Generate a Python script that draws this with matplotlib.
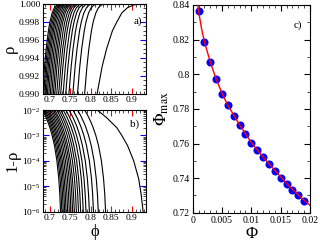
import matplotlib
matplotlib.use("Agg")
import matplotlib.pyplot as plt
from matplotlib.ticker import MultipleLocator, FuncFormatter, LogLocator, NullFormatter

plt.rcParams["font.family"] = ["Liberation Serif", "DejaVu Serif"]
plt.rcParams["mathtext.fontset"] = "stix"

# 1 - rho levels at which each curve was read (panel b scale)
levels = [1e-2, 7e-3, 5e-3, 3e-3, 2e-3, 1e-3, 4e-4, 1e-4, 2e-5, 5e-6, 1e-6]

# phi where each curve crosses the levels above, read from panels a) and b)
curves = [
    [0.816, 0.828, 0.839, 0.853, 0.864, 0.876, 0.890, 0.905, 0.917, 0.923, 0.928],
    [0.7855, 0.7910, 0.7957, 0.8020, 0.8063, 0.8127, 0.8192, 0.8263, 0.8315, 0.8344, 0.8365],
    [0.7681, 0.7736, 0.7782, 0.7845, 0.7888, 0.7950, 0.8015, 0.8085, 0.8137, 0.8166, 0.8187],
    [0.7568, 0.7622, 0.7669, 0.7730, 0.7773, 0.7835, 0.7900, 0.7969, 0.8021, 0.8049, 0.8070],
    [0.7472, 0.7526, 0.7572, 0.7633, 0.7676, 0.7737, 0.7801, 0.7870, 0.7921, 0.7949, 0.7970],
    [0.7394, 0.7448, 0.7493, 0.7554, 0.7596, 0.7657, 0.7721, 0.7789, 0.7839, 0.7867, 0.7888],
    [0.7331, 0.7384, 0.7429, 0.7489, 0.7531, 0.7592, 0.7655, 0.7723, 0.7773, 0.7800, 0.7821],
    [0.7271, 0.7324, 0.7368, 0.7428, 0.7470, 0.7530, 0.7592, 0.7660, 0.7709, 0.7737, 0.7757],
    [0.7223, 0.7275, 0.7320, 0.7379, 0.7420, 0.7480, 0.7542, 0.7608, 0.7658, 0.7685, 0.7705],
    [0.7175, 0.7227, 0.7271, 0.7330, 0.7370, 0.7430, 0.7491, 0.7557, 0.7606, 0.7633, 0.7653],
    [0.7129, 0.7180, 0.7224, 0.7282, 0.7323, 0.7381, 0.7442, 0.7508, 0.7556, 0.7583, 0.7603],
    [0.7092, 0.7143, 0.7186, 0.7244, 0.7284, 0.7342, 0.7403, 0.7468, 0.7516, 0.7542, 0.7562],
    [0.7055, 0.7105, 0.7148, 0.7206, 0.7245, 0.7303, 0.7363, 0.7428, 0.7475, 0.7501, 0.7521],
    [0.7018, 0.7068, 0.7110, 0.7167, 0.7207, 0.7264, 0.7323, 0.7387, 0.7435, 0.7461, 0.7480],
    [0.6982, 0.7032, 0.7074, 0.7130, 0.7169, 0.7226, 0.7285, 0.7348, 0.7395, 0.7421, 0.7440],
    [0.6948, 0.6997, 0.7039, 0.7095, 0.7134, 0.7190, 0.7248, 0.7311, 0.7357, 0.7383, 0.7402],
    [0.6918, 0.6967, 0.7008, 0.7064, 0.7102, 0.7158, 0.7215, 0.7278, 0.7324, 0.7349, 0.7368],
    [0.6888, 0.6936, 0.6977, 0.7032, 0.7070, 0.7125, 0.7183, 0.7245, 0.7290, 0.7315, 0.7334],
    [0.6858, 0.6906, 0.6947, 0.7001, 0.7039, 0.7093, 0.7150, 0.7211, 0.7257, 0.7281, 0.7300],
    [0.6829, 0.6876, 0.6917, 0.6971, 0.7008, 0.7062, 0.7119, 0.7179, 0.7224, 0.7249, 0.7267],
]

# panel c) points and fitted line
Phi = [0.001, 0.002, 0.003, 0.004, 0.005, 0.006, 0.007, 0.008, 0.009, 0.010,
       0.011, 0.012, 0.013, 0.014, 0.015, 0.016, 0.017, 0.018, 0.019]
phi_max = [0.8365, 0.8187, 0.8070, 0.7970, 0.7888, 0.7821, 0.7757, 0.7705, 0.7653, 0.7603,
           0.7562, 0.7521, 0.7480, 0.7440, 0.7402, 0.7368, 0.7334, 0.7300, 0.7267]
fit_Phi = [0.0008, 0.001, 0.0015, 0.002, 0.003, 0.004, 0.005, 0.006, 0.008, 0.010,
           0.012, 0.014, 0.016, 0.018, 0.020]
fit_max = [0.8410, 0.8365, 0.8265, 0.8187, 0.8070, 0.7972, 0.7890, 0.7820, 0.7708, 0.7605,
           0.7522, 0.7445, 0.7370, 0.7303, 0.7243]

rho = [1 - l for l in levels]

fig = plt.figure(figsize=(3.2, 2.42), dpi=100)
ax_a = fig.add_axes([0.1344, 0.6136, 0.3219, 0.3698])
ax_b = fig.add_axes([0.1344, 0.1252, 0.3219, 0.4202])
ax_c = fig.add_axes([0.6022, 0.1207, 0.3666, 0.8587])

for c in curves:
    ax_a.plot(c, rho, color="black", lw=0.8)
    ax_b.plot(c, levels, color="black", lw=0.8)

tick_fs = 6.8
g = lambda v, p: "%g" % v

for ax in (ax_a, ax_b):
    ax.set_xlim(0.684, 0.935)
    ax.xaxis.set_major_locator(MultipleLocator(0.05))
    ax.xaxis.set_minor_locator(MultipleLocator(0.01))
    ax.xaxis.set_major_formatter(FuncFormatter(g))
    ax.tick_params(which="both", direction="in", top=True, right=True, labelsize=tick_fs, pad=2)
    ax.tick_params(axis="x", which="major", color="red", length=4)
    ax.tick_params(axis="y", which="major", color="blue", length=4)
    ax.tick_params(which="minor", length=2, width=0.5)

ax_a.set_ylim(0.990, 1.000)
ax_a.yaxis.set_major_locator(MultipleLocator(0.002))
ax_a.yaxis.set_minor_locator(MultipleLocator(0.0005))
ax_a.yaxis.set_major_formatter(FuncFormatter(lambda v, p: "%.3f" % v))
ax_a.set_ylabel("ρ", fontsize=12, labelpad=1)
ax_a.text(0.88, 0.78, "a)", transform=ax_a.transAxes, fontsize=8)

ax_b.set_yscale("log")
ax_b.set_ylim(1e-6, 1e-2)
ax_b.yaxis.set_major_locator(LogLocator(base=10, numticks=10))
ax_b.yaxis.set_minor_locator(LogLocator(base=10, subs=range(2, 10), numticks=10))
ax_b.yaxis.set_minor_formatter(NullFormatter())
ax_b.set_ylabel("1-ρ", fontsize=12, labelpad=1)
ax_b.set_xlabel("ϕ", fontsize=12, labelpad=1)
ax_b.text(0.84, 0.84, "b)", transform=ax_b.transAxes, fontsize=8)

ax_c.plot(fit_Phi, fit_max, color="#ff0000", lw=1, zorder=3)
ax_c.plot(Phi, phi_max, "o", color="#0000ff", ms=5.8, mec="none", zorder=2)
ax_c.set_xlim(0, 0.02)
ax_c.set_ylim(0.72, 0.84)
ax_c.xaxis.set_major_locator(MultipleLocator(0.005))
ax_c.xaxis.set_minor_locator(MultipleLocator(0.001))
ax_c.yaxis.set_major_locator(MultipleLocator(0.02))
ax_c.yaxis.set_minor_locator(MultipleLocator(0.01))
ax_c.xaxis.set_major_formatter(FuncFormatter(g))
ax_c.yaxis.set_major_formatter(FuncFormatter(g))
ax_c.tick_params(which="both", direction="in", top=True, right=True, labelsize=7, pad=2)
ax_c.tick_params(which="major", length=4)
ax_c.tick_params(which="minor", length=2, width=0.5)
ax_c.set_xlabel("Φ", fontsize=12, labelpad=1)
ax_c.set_ylabel(r"$\Phi_{\rm max}$", fontsize=12, labelpad=1)
ax_c.text(0.86, 0.89, "c)", transform=ax_c.transAxes, fontsize=8)

fig.savefig("out.png", dpi=100)
